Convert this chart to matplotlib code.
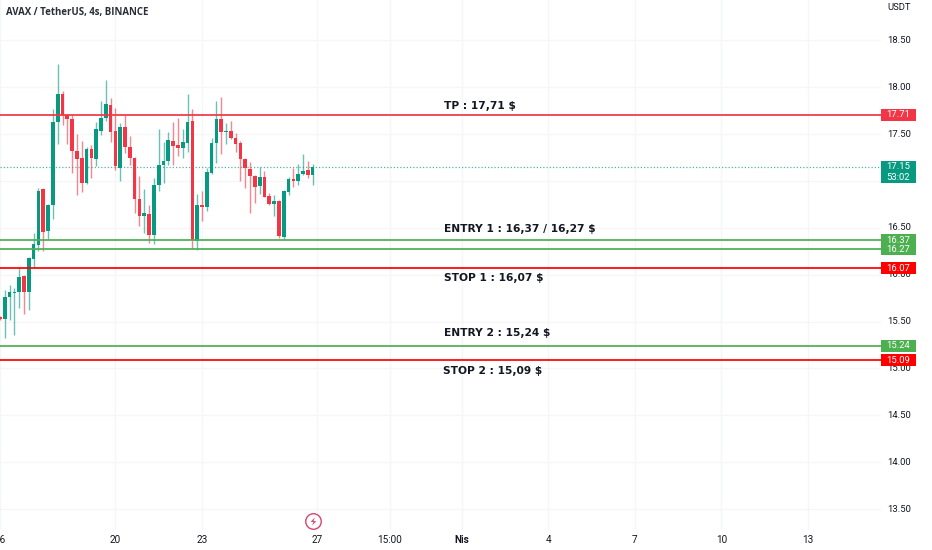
import numpy as np
import matplotlib
matplotlib.use("Agg")
import matplotlib.pyplot as plt
from matplotlib.patches import Rectangle
from matplotlib.path import Path

# bougies 4h, index 0 = premiere bougie visible
ouv = [15.55, 15.53, 15.76, 15.81, 15.82, 15.99, 15.82, 16.17, 16.32, 16.91, 16.47, 16.74, 17.63, 17.93, 17.71, 17.66,
       17.32, 17.25, 16.98, 17.34, 17.24, 17.53, 17.67, 17.81, 17.53, 17.14, 17.58, 17.36, 17.25, 16.81, 16.63, 16.65,
       16.42, 16.96, 17.17, 17.21, 17.43, 17.38, 17.35, 17.41, 17.64, 16.36, 16.74, 16.72, 17.09, 17.41, 17.66, 17.52,
       17.53, 17.46, 17.41, 17.24, 17.13, 17.05, 16.95, 17.04, 16.84, 16.75, 16.79, 16.40, 16.88, 17.02, 17.00, 17.07,
       17.12, 17.06]
haut = [15.56, 15.84, 15.89, 15.86, 16.08, 16.00, 16.19, 16.45, 16.93, 16.93, 16.75, 17.77, 18.25, 17.96, 17.72, 17.71,
        17.50, 17.43, 17.36, 17.38, 17.63, 17.85, 18.08, 17.89, 17.78, 17.62, 17.71, 17.48, 17.26, 17.05, 16.92, 16.74,
        17.03, 17.56, 17.42, 17.52, 17.63, 17.67, 17.56, 17.93, 17.77, 16.86, 16.89, 17.14, 17.46, 17.85, 17.90, 17.62,
        17.64, 17.51, 17.43, 17.25, 17.20, 17.06, 17.15, 17.11, 16.87, 16.85, 16.80, 16.90, 17.04, 17.14, 17.18, 17.29,
        17.21, 17.18]
bas = [15.52, 15.33, 15.52, 15.36, 15.65, 15.58, 15.62, 16.07, 16.25, 16.25, 16.38, 16.60, 17.39, 17.60, 17.40, 17.09,
       16.85, 16.88, 16.97, 17.03, 17.16, 17.49, 17.64, 17.42, 17.12, 17.00, 17.30, 17.17, 16.66, 16.52, 16.45, 16.34,
       16.33, 16.89, 16.98, 17.17, 17.17, 17.27, 17.25, 17.31, 16.28, 16.26, 16.57, 16.68, 17.08, 17.19, 17.29, 17.40,
       17.45, 17.31, 17.00, 16.93, 16.66, 16.77, 16.86, 16.83, 16.74, 16.63, 16.39, 16.38, 16.85, 16.94, 16.96, 17.06,
       17.03, 16.96]
clo = [15.53, 15.76, 15.82, 15.82, 15.98, 15.82, 16.18, 16.33, 16.89, 16.46, 16.74, 17.63, 17.93, 17.71, 17.66, 17.32,
       17.24, 16.98, 17.34, 17.25, 17.56, 17.67, 17.82, 17.52, 17.16, 17.58, 17.36, 17.25, 16.81, 16.63, 16.66, 16.42,
       16.96, 17.17, 17.21, 17.44, 17.37, 17.35, 17.42, 17.63, 16.37, 16.74, 16.72, 17.10, 17.41, 17.66, 17.52, 17.53,
       17.46, 17.40, 17.24, 17.14, 17.05, 16.94, 17.04, 16.83, 16.76, 16.79, 16.41, 16.89, 17.02, 17.00, 17.08, 17.11,
       17.06, 17.15]
premier_index = -1

prix_ticks = [18.5, 18.0, 17.5, 16.5, 16.0, 15.5, 15.0, 14.5, 14.0, 13.5]
temps_pos = [-1, 23, 41, 65, 80, 95, 113, 131, 149, 167]
temps_lab = ["16", "20", "23", "27", "15:00", "Nis", "4", "7", "10", "13"]

niveaux = [17.71, 16.37, 16.27, 16.07, 15.24, 15.09]
niveaux_coul = ["#F23645", "#4CAF50", "#4CAF50", "#FF0000", "#4CAF50", "#FF0000"]
notes = ["TP : 17,71 $", "ENTRY 1 : 16,37 / 16,27 $", "STOP 1 : 16,07 $", "ENTRY 2 : 15,24 $", "STOP 2 : 15,09 $"]
notes_prix = [17.80, 16.49, 15.97, 15.38, 14.97]
notes_pos = [91.3, 91.3, 91.3, 91.3, 91.1]
dernier = 17.15

VERT = "#089981"
ROUGE = "#F23645"
W, H = 932, 550
POLICE = "Roboto"
TAILLE = 6.8


def axes_pixels(fig, x0, x1, y0, y1):
    return fig.add_axes([x0 / W, 1 - y1 / H, (x1 - x0) / W, (y1 - y0) / H])


def dessinerBougies(ax):
    x = np.arange(len(ouv)) + premier_index
    o, h, l, c = map(np.array, (ouv, haut, bas, clo))
    coul = np.where(c >= o, VERT, ROUGE)
    ax.vlines(x, l, h, colors=coul, lw=1, alpha=0.6, zorder=3)
    ax.bar(x, np.abs(c - o), bottom=np.minimum(o, c), width=0.76, color=coul, lw=0, zorder=4)


def dessinerNiveaux(ax):
    for p, cc in zip(niveaux, niveaux_coul):
        ax.axhline(p, color=cc, lw=1.25, zorder=5)
    ax.axhline(dernier, color=VERT, lw=0.9, ls=(0, (1, 1.6)), alpha=0.7, zorder=2)
    for t, p, xx in zip(notes, notes_prix, notes_pos):
        ax.text(xx, p, t, fontsize=7.7, fontweight="bold", family="DejaVu Sans", color="#131722",
                va="center", ha="left", zorder=6)


def etiquette(pax, p, txt, cc, haut_box=0.128):
    pax.add_patch(Rectangle((0, p - haut_box / 2), 35 / 51, haut_box, color=cc, lw=0, zorder=3))
    pax.text(17.5 / 51, p, txt, color="white", fontsize=TAILLE, family=POLICE, ha="center", va="center", zorder=4)


def echellePrix(pax):
    pax.axis("off")
    pax.set_xlim(0, 1)
    for p in prix_ticks:
        pax.text(18 / 51, p, "%.2f" % p, fontsize=TAILLE, family=POLICE, color="#131722", ha="center", va="center", zorder=1)
    pax.text(18 / 51, 18.85, "USDT", fontsize=TAILLE, family=POLICE, color="#131722", ha="center", va="center")
    for p, cc in zip(niveaux, niveaux_coul):
        etiquette(pax, p, "%.2f" % p, cc)
    # la bougie en cours a une etiquette sur deux lignes avec le compte a rebours
    pax.add_patch(Rectangle((0, dernier - 0.175), 35 / 51, 0.24, color=VERT, lw=0, zorder=3))
    pax.text(17.5 / 51, dernier, "%.2f" % dernier, color="white", fontsize=TAILLE, family=POLICE, ha="center", va="center", zorder=4)
    pax.text(17.5 / 51, dernier - 0.115, "53:02", color="white", fontsize=TAILLE, family=POLICE, ha="center", va="center", zorder=4)


def dessinerEclair(ax):
    eclair = Path([(0.35, 1), (-0.75, -0.1), (0, -0.1), (-0.35, -1), (0.75, 0.1), (0, 0.1), (0.35, 1)])
    tr = ax.get_xaxis_transform()
    ax.scatter([64], [0.0], s=125, marker="o", facecolor="white", edgecolor="#D6446E", lw=1, transform=tr,
               clip_on=False, zorder=6)
    ax.scatter([64], [0.0], s=32, marker=eclair, color="#D6446E", lw=0, transform=tr, clip_on=False, zorder=7)


def main():
    fig = plt.figure(figsize=(W / 100, H / 100), dpi=100, facecolor="white")
    ax = axes_pixels(fig, 0, 881, 0, 530)
    ax.set_xlim(-0.956, 182.2)
    ax.set_ylim(13.276, 18.932)
    for s in ax.spines.values():
        s.set_visible(False)
    ax.set_yticks(np.arange(13.5, 18.6, 0.5))
    ax.set_xticks(temps_pos)
    ax.set_xticklabels(temps_lab, fontsize=7.2, family=POLICE, color="#131722")
    ax.get_xticklabels()[5].set_fontweight("bold")
    ax.tick_params(length=0, pad=3.5)
    ax.tick_params(axis="y", labelleft=False)
    ax.grid(color="#F5F6F7", lw=1)
    ax.set_axisbelow(True)

    dessinerBougies(ax)
    dessinerNiveaux(ax)

    ax.text(6 / 881, 1 - 12 / 530, "AVAX / TetherUS, 4s, BINANCE", transform=ax.transAxes,
            fontsize=6.9, fontweight="bold", family="Open Sans", color="#2A2E39", va="center", ha="left")

    # marqueur place en bas de l'axe : un peu au dessus du bord
    eclair_ax = axes_pixels(fig, 0, 881, 0, 520.7)
    eclair_ax.set_xlim(ax.get_xlim())
    eclair_ax.axis("off")
    dessinerEclair(eclair_ax)

    pax = axes_pixels(fig, 881, 932, 0, 530)
    pax.set_ylim(ax.get_ylim())
    echellePrix(pax)

    fig.savefig("out.png", dpi=100)


if __name__ == "__main__":
    main()
